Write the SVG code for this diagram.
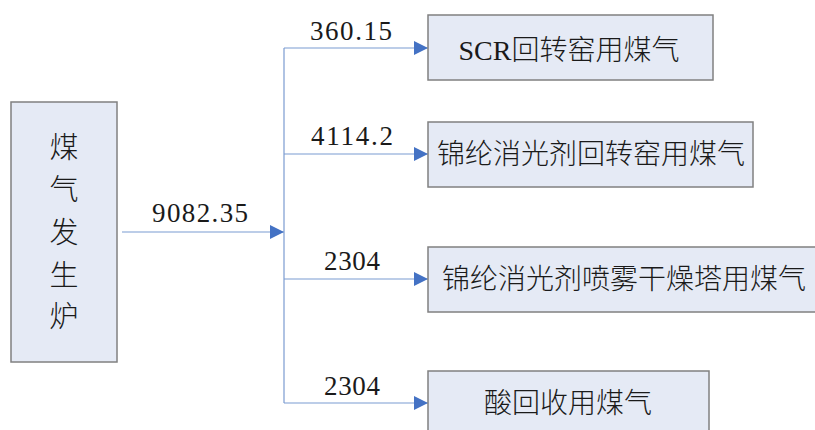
<svg xmlns="http://www.w3.org/2000/svg" width="815" height="430" viewBox="0 0 815 430">
<style>
.box{fill:#E5EAF5;stroke:#808080;stroke-width:1.5}
.cjk{font-family:"Liberation Serif","Noto Sans CJK SC",serif;font-size:28px;font-weight:300;fill:#1a1a1a;text-anchor:middle;dominant-baseline:central}
.num{font-family:"Liberation Serif",serif;font-size:27px;fill:#1a1a1a;text-anchor:middle}
.ln{stroke:#7B9BD1;stroke-width:1.2;fill:none}
</style>
<defs>
<marker id="arr" markerUnits="userSpaceOnUse" markerWidth="14" markerHeight="14" refX="14" refY="7" orient="auto">
<path d="M0,0 L14,7 L0,14 z" fill="#4472C4"/>
</marker>
</defs>
<rect width="815" height="430" fill="#ffffff"/>
<g id="connectors">
<line class="ln" x1="122" y1="232" x2="284" y2="232" marker-end="url(#arr)"/>
<line class="ln" x1="284" y1="48" x2="284" y2="403"/>
<line class="ln" x1="284" y1="48" x2="428" y2="48" marker-end="url(#arr)"/>
<line class="ln" x1="284" y1="154" x2="428" y2="154" marker-end="url(#arr)"/>
<line class="ln" x1="284" y1="279" x2="428" y2="279" marker-end="url(#arr)"/>
<line class="ln" x1="284" y1="403" x2="428" y2="403" marker-end="url(#arr)"/>
<text class="num" x="200" y="222" textLength="96" lengthAdjust="spacing">9082.35</text>
<text class="num" x="351" y="40" textLength="82" lengthAdjust="spacing">360.15</text>
<text class="num" x="352" y="145" textLength="82" lengthAdjust="spacing">4114.2</text>
<text class="num" x="352" y="270" textLength="56" lengthAdjust="spacing">2304</text>
<text class="num" x="352" y="395" textLength="56" lengthAdjust="spacing">2304</text>
</g>
<g id="gasifier">
<rect class="box" x="11" y="102" width="106" height="260"/>
<text class="cjk" x="64" y="148" style="font-size:29px">煤</text>
<text class="cjk" x="64" y="190" style="font-size:29px">气</text>
<text class="cjk" x="64" y="233" style="font-size:29px">发</text>
<text class="cjk" x="64" y="276" style="font-size:29px">生</text>
<text class="cjk" x="64" y="317" style="font-size:29px">炉</text>
</g>
<g id="scr">
<rect class="box" x="428" y="15" width="285" height="65"/>
<text class="cjk" x="569" y="50">SCR回转窑用煤气</text>
</g>
<g id="kiln">
<rect class="box" x="428" y="122" width="325" height="65"/>
<text class="cjk" x="591" y="154">锦纶消光剂回转窑用煤气</text>
</g>
<g id="dryer">
<rect class="box" x="428" y="247" width="388" height="65"/>
<text class="cjk" x="624" y="279">锦纶消光剂喷雾干燥塔用煤气</text>
</g>
<g id="acid">
<rect class="box" x="428" y="371" width="281" height="70"/>
<text class="cjk" x="568" y="403">酸回收用煤气</text>
</g>
</svg>
